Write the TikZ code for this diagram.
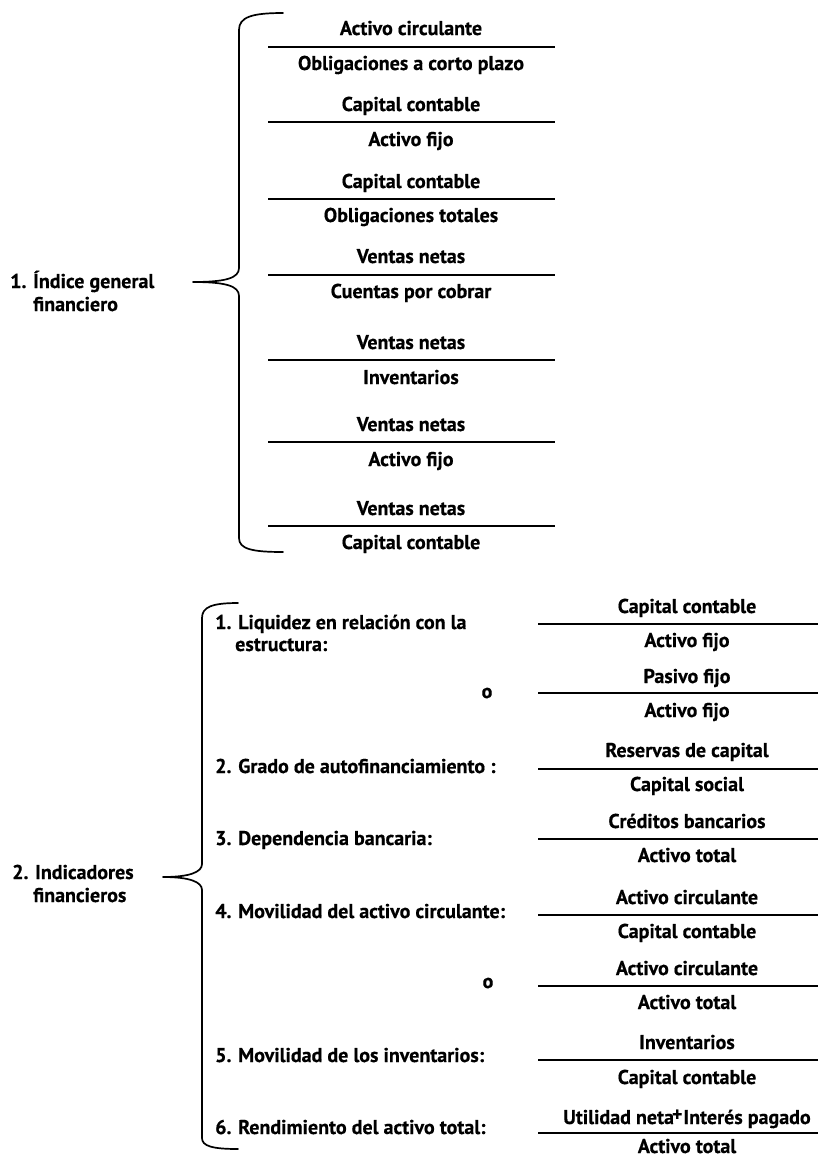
\documentclass[tikz,border=0pt]{standalone}
\usepackage{fontspec}
\setmainfont{PT Sans}[BoldFeatures={FakeBold=0.5}]
\usepackage{tikz}
\usetikzlibrary{positioning,calc}

\begin{document}
\begin{tikzpicture}[
    x=1pt, y=-1pt,
    term/.style={font=\fontsize{20}{24}\selectfont\bfseries, text height=14pt, text depth=4pt, inner sep=0pt},
    lbl/.style={font=\fontsize{20}{24}\selectfont\bfseries, inner sep=0pt, anchor=base west},
    bar/.style={line width=1.6pt},
    brace/.style={line width=1.7pt, line join=round, line cap=round}
]
\useasboundingbox (0,0) rectangle (818,1157);

% 1. Indice general financiero
\node[lbl] (ind) at (10,288) {1.};
\node[lbl] (indA) at (33,288) {Índice general};
\node[lbl] (indB) at (33,311) {financiero};
\coordinate (tip1) at (193,282);
\draw[brace] (283,13) .. controls (252,13) and (239,17) .. (239,30) -- (239,268)
    .. controls (239,278) and (226,282) .. (tip1)
    .. controls (226,282) and (239,286) .. (239,296) -- (239,538)
    .. controls (239,549) and (252,552) .. (283,552);

\node[term] (n1) at (411,30) {Activo circulante};
\draw[bar] (268,47) -- (555,47);
\node[term] (d1) at (411,65) {Obligaciones a corto plazo};
\node[term] (n2) at (411,106) {Capital contable};
\draw[bar] (268,122) -- (555,122);
\node[term] (d2) at (411,141) {Activo fijo};
\node[term] (n3) at (411,183) {Capital contable};
\draw[bar] (268,199) -- (555,199);
\node[term] (d3) at (411,217) {Obligaciones totales};
\node[term] (n4) at (411,258) {Ventas netas};
\draw[bar] (268,275) -- (555,275);
\node[term] (d4) at (411,293) {Cuentas por cobrar};
\node[term] (n5) at (411,344) {Ventas netas};
\draw[bar] (268,360) -- (555,360);
\node[term] (d5) at (411,379) {Inventarios};
\node[term] (n6) at (411,426) {Ventas netas};
\draw[bar] (268,442) -- (555,442);
\node[term] (d6) at (411,461) {Activo fijo};
\node[term] (n7) at (411,510) {Ventas netas};
\draw[bar] (268,526) -- (555,526);
\node[term] (d7) at (411,544) {Capital contable};

% 2. Indicadores financieros
\node[lbl] (ifin) at (12,879) {2.};
\node[lbl] (ifinA) at (35,879) {Indicadores};
\node[lbl] (ifinB) at (33,902) {financieros};
\coordinate (tip2) at (163,877);
\draw[brace] (238,603) .. controls (212,603) and (202,607) .. (202,618) -- (202,864)
    .. controls (202,872) and (190,877) .. (tip2)
    .. controls (190,877) and (202,882) .. (202,890) -- (202,1138)
    .. controls (202,1146) and (212,1149) .. (238,1149);

\node[lbl] (liq) at (215,629) {1. Liquidez en relación con la};
\node[lbl] (liqB) at (235,651) {estructura:};
\node[lbl] (auto) at (215,773) {2. Grado de autofinanciamiento :};
\node[lbl] (dep) at (215,845) {3. Dependencia bancaria:};
\node[lbl] (mov) at (215,918) {4. Movilidad del activo circulante:};
\node[lbl] (inv) at (215,1062) {5. Movilidad de los inventarios:};
\node[lbl] (rend) at (215,1134) {6. Rendimiento del activo total:};
\node[term] (o1) at (487,693) {o};
\node[term] (o2) at (488,983) {o};

\node[term] (m1) at (687,608) {Capital contable};
\draw[bar] (538,624) -- (840,624);
\node[term] (e1) at (687,642) {Activo fijo};
\node[term] (m2) at (687,678) {Pasivo fijo};
\draw[bar] (538,693) -- (840,693);
\node[term] (e2) at (687,712) {Activo fijo};
\node[term] (m3) at (687,752) {Reservas de capital};
\draw[bar] (538,769) -- (840,769);
\node[term] (e3) at (687,786) {Capital social};
\node[term] (m4) at (687,823) {Créditos bancarios};
\draw[bar] (538,839) -- (840,839);
\node[term] (e4) at (687,857) {Activo total};
\node[term] (m5) at (687,899) {Activo circulante};
\draw[bar] (538,915) -- (840,915);
\node[term] (e5) at (687,933) {Capital contable};
\node[term] (m6) at (687,970) {Activo circulante};
\draw[bar] (538,986) -- (840,986);
\node[term] (e6) at (687,1004) {Activo total};
\node[term] (m7) at (687,1044) {Inventarios};
\draw[bar] (538,1060) -- (840,1060);
\node[term] (e7) at (687,1079) {Capital contable};
\node[term] (m8) at (687,1119) {Utilidad neta\kern-2pt\raisebox{3pt}{+}\kern1pt Interés pagado};
\draw[bar] (538,1133) -- (840,1133);
\node[term] (e8) at (687,1148) {Activo total};
\end{tikzpicture}
\end{document}
